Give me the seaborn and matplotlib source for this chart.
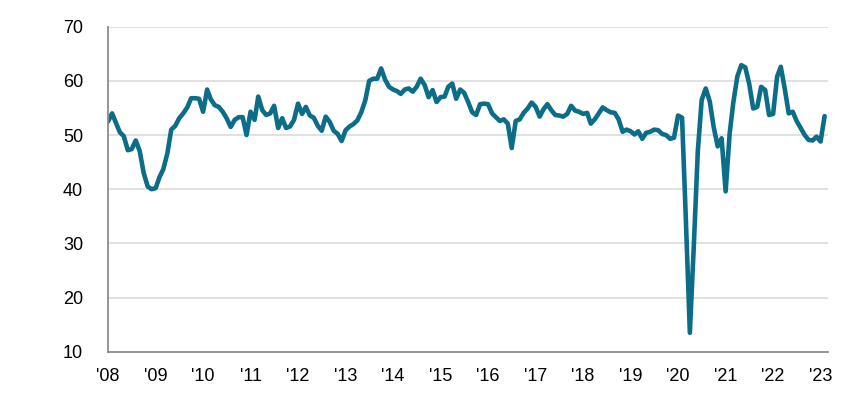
import numpy as np
import pandas as pd
import matplotlib
matplotlib.use("Agg")
import matplotlib.pyplot as plt
import seaborn as sns

# Monthly index values, Jan 2008 - Feb 2023
v2008 = [52.5, 54.0, 52.3, 50.5, 49.8, 47.2, 47.4, 49.0, 47.0, 43.0, 40.5, 40.0]
v2009 = [40.2, 42.3, 43.7, 46.6, 51.0, 51.7, 53.1, 54.0, 55.1, 56.8, 56.8, 56.7]
v2010 = [54.3, 58.4, 56.6, 55.5, 55.2, 54.3, 53.1, 51.5, 52.8, 53.3, 53.3, 50.0]
v2011 = [54.3, 52.8, 57.1, 54.6, 53.7, 54.0, 55.4, 51.3, 53.1, 51.3, 51.6, 52.8]
v2012 = [55.8, 53.9, 55.2, 53.6, 53.2, 51.7, 50.8, 53.4, 52.4, 50.8, 50.2, 48.9]
v2013 = [50.9, 51.6, 52.0, 52.7, 54.2, 56.4, 60.0, 60.4, 60.4, 62.3, 60.2, 58.9]
v2014 = [58.4, 58.1, 57.6, 58.4, 58.6, 58.0, 58.9, 60.4, 59.2, 57.0, 58.3, 56.1]
v2015 = [57.0, 57.1, 58.9, 59.5, 56.7, 58.4, 57.8, 56.1, 54.2, 53.7, 55.7, 55.8]
v2016 = [55.7, 54.0, 53.3, 52.6, 52.9, 52.1, 47.6, 52.6, 52.9, 54.1, 54.9, 56.0]
v2017 = [55.2, 53.4, 54.7, 55.7, 54.6, 53.7, 53.6, 53.4, 53.9, 55.4, 54.5, 54.3]
v2018 = [53.9, 54.1, 52.1, 52.9, 54.0, 55.1, 54.6, 54.2, 54.1, 52.9, 50.6, 51.0]
v2019 = [50.7, 50.1, 50.7, 49.3, 50.4, 50.6, 51.0, 50.9, 50.2, 50.0, 49.3, 49.5]
v2020 = [53.6, 53.2, 34.5, 13.5, 29.4, 47.0, 56.5, 58.6, 56.2, 51.5, 47.9, 49.4]
v2021 = [39.6, 50.3, 56.0, 60.8, 62.9, 62.5, 59.5, 54.9, 55.2, 58.9, 58.3, 53.7]
v2022 = [53.9, 60.8, 62.6, 58.5, 54.0, 54.3, 52.6, 51.3, 50.0, 49.1, 49.0, 49.7]
v2023 = [48.8, 53.5]

values = (v2008 + v2009 + v2010 + v2011 + v2012 + v2013 + v2014 + v2015 +
          v2016 + v2017 + v2018 + v2019 + v2020 + v2021 + v2022 + v2023)
dates = pd.date_range("2008-01-01", periods=len(values), freq="MS")
df = pd.DataFrame({"date": dates, "value": values})

years = list(range(2008, 2024))
year_labels = ["'%02d" % (y % 100) for y in years]
y_ticks = [10, 20, 30, 40, 50, 60, 70]

sns.set_style("white")
plt.rcParams["font.family"] = ["Liberation Sans", "DejaVu Sans"]

fig = plt.figure(figsize=(8.65, 3.98), dpi=100)
ax = fig.add_axes([0.1249, 0.1163, 0.832, 0.8166])

# horizontal gridlines
for t in y_ticks[1:]:
    ax.axhline(t, color="#d9d9d9", lw=1.1, zorder=0)

sns.lineplot(data=df, x="date", y="value", ax=ax, color="#0b6d87", lw=3.3,
             solid_joinstyle="round", solid_capstyle="round")

ax.set_ylim(10, 70)
ax.set_yticks(y_ticks)
ax.set_xlim(pd.Timestamp("2008-01-01"), pd.Timestamp("2023-02-25"))
ax.set_xticks([pd.Timestamp(f"{y}-01-01") for y in years])
ax.set_xticklabels(year_labels)
ax.set_xlabel("")
ax.set_ylabel("")

for side in ["top", "right"]:
    ax.spines[side].set_visible(False)
for side in ["left", "bottom"]:
    ax.spines[side].set_color("#8c8c8c")
    ax.spines[side].set_linewidth(1.3)

ax.tick_params(axis="both", which="major", labelsize=13, colors="#8c8c8c",
               labelcolor="black", width=1.3)
ax.tick_params(axis="y", direction="out", length=6, pad=12)
ax.tick_params(axis="x", direction="out", length=6, pad=6)

fig.savefig("out.png", dpi=100)
